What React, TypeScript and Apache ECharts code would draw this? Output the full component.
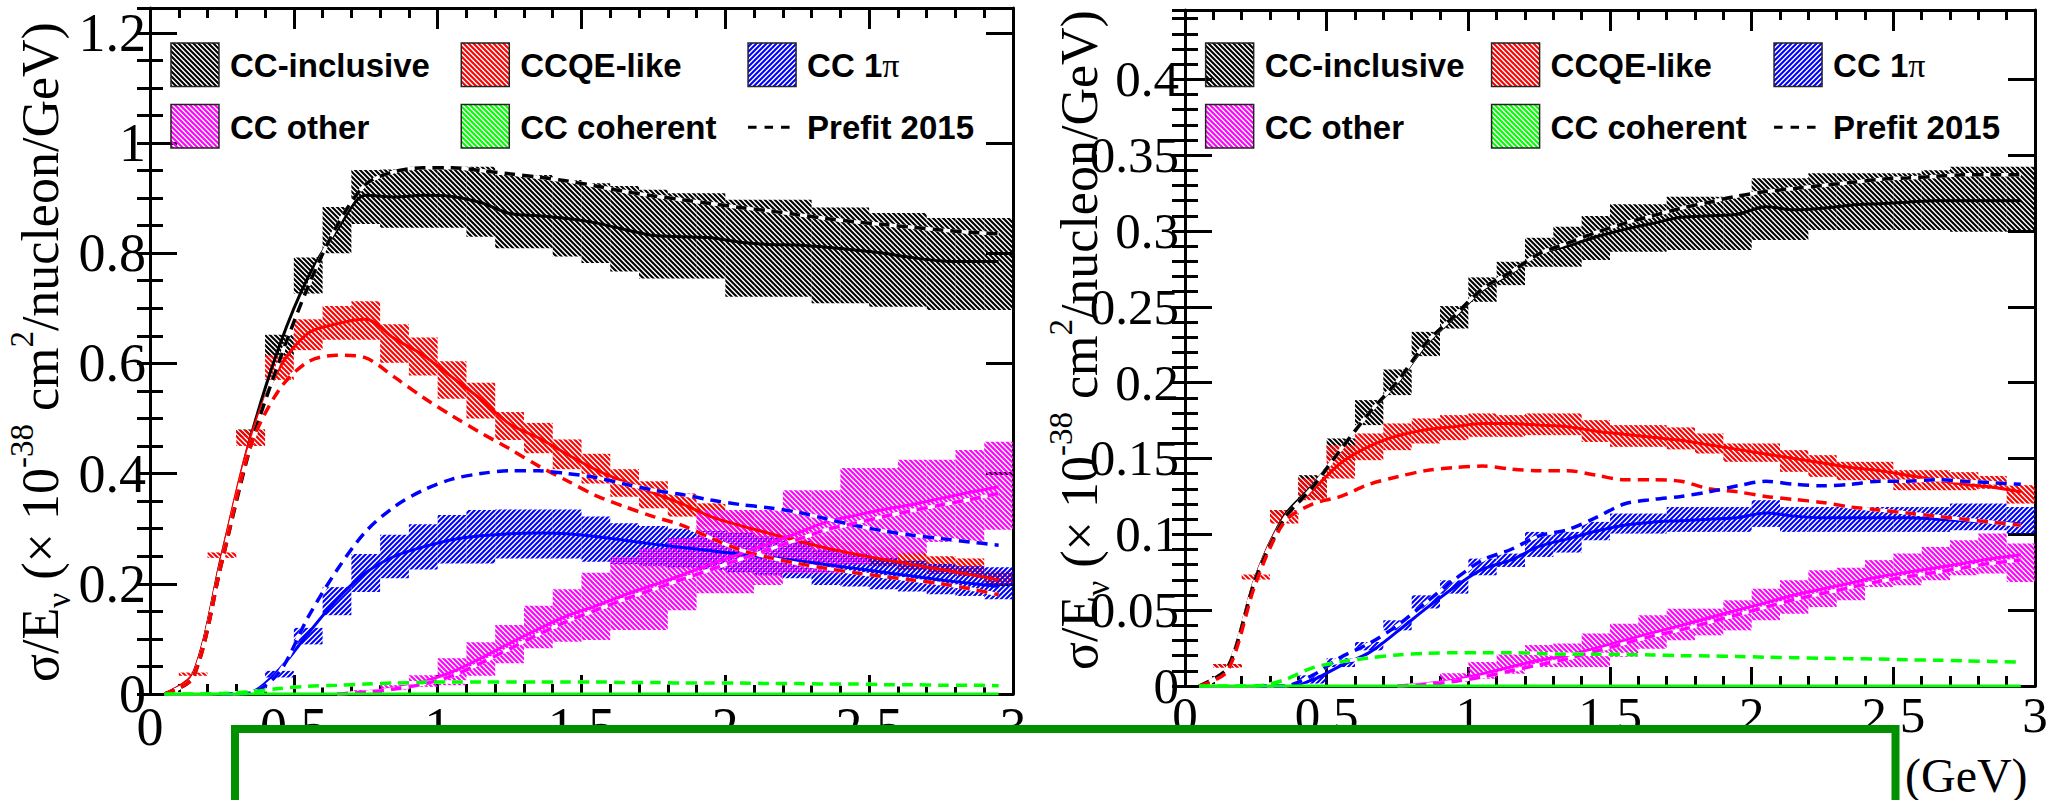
import React, { useEffect, useRef } from "react";
import * as echarts from "echarts";

// ---------- bin centres (GeV), bins are 0.1 GeV wide ----------
const E_CENTERS = [0.05, 0.15, 0.25, 0.35, 0.45, 0.55, 0.65, 0.75, 0.85, 0.95, 1.05, 1.15, 1.25, 1.35, 1.45, 1.55, 1.65, 1.75, 1.85, 1.95, 2.05, 2.15, 2.25, 2.35, 2.45, 2.55, 2.65, 2.75, 2.85, 2.95];
const BIN_HALF_WIDTH = 0.05;

const X_TICKS = [0, 0.5, 1, 1.5, 2, 2.5, 3];
const LEGEND_LABELS = ["CC-inclusive", "CCQE-like", "CC 1π", "CC other", "CC coherent", "Prefit 2015"];

// ---------- LEFT PANEL ----------
const L_INCL_LO = [null, null, null, 0.466, 0.612, 0.727, 0.800, 0.853, 0.846, 0.846, 0.846, 0.830, 0.809, 0.809, 0.794, 0.782, 0.767, 0.754, 0.754, 0.754, 0.721, 0.721, 0.721, 0.709, 0.709, 0.703, 0.703, 0.697, 0.697, 0.697];
const L_INCL_HI = [null, null, null, 0.480, 0.652, 0.792, 0.884, 0.951, 0.952, 0.957, 0.957, 0.957, 0.942, 0.942, 0.933, 0.927, 0.922, 0.915, 0.909, 0.909, 0.897, 0.897, 0.897, 0.883, 0.883, 0.873, 0.873, 0.864, 0.864, 0.864];
const L_INCL_FIT = [0, 0.036, 0.252, 0.466, 0.632, 0.757, 0.842, 0.905, 0.902, 0.905, 0.903, 0.892, 0.872, 0.868, 0.863, 0.855, 0.843, 0.832, 0.830, 0.828, 0.820, 0.816, 0.815, 0.811, 0.806, 0.800, 0.792, 0.786, 0.785, 0.785];
const L_INCL_PRE = [0, 0.030, 0.240, 0.450, 0.605, 0.740, 0.850, 0.925, 0.948, 0.955, 0.955, 0.950, 0.944, 0.938, 0.931, 0.922, 0.912, 0.904, 0.897, 0.890, 0.883, 0.877, 0.870, 0.863, 0.857, 0.852, 0.847, 0.842, 0.838, 0.835];

const L_CCQE_LO = [null, 0.033, 0.247, 0.450, 0.570, 0.624, 0.643, 0.643, 0.601, 0.578, 0.536, 0.500, 0.461, 0.437, 0.408, 0.382, 0.358, 0.337, 0.322, 0.304, 0.290, 0.276, 0.262, 0.250, 0.240, 0.232, 0.225, 0.218, 0.214, 0.198];
const L_CCQE_HI = [null, 0.039, 0.257, 0.479, 0.615, 0.680, 0.704, 0.713, 0.671, 0.647, 0.604, 0.565, 0.512, 0.492, 0.462, 0.436, 0.408, 0.386, 0.364, 0.346, 0.330, 0.314, 0.300, 0.286, 0.276, 0.266, 0.258, 0.250, 0.246, 0.222];
const L_CCQE_FIT = [0, 0.036, 0.252, 0.465, 0.592, 0.655, 0.672, 0.680, 0.645, 0.615, 0.575, 0.535, 0.490, 0.465, 0.435, 0.407, 0.385, 0.365, 0.345, 0.322, 0.306, 0.292, 0.278, 0.265, 0.254, 0.244, 0.235, 0.226, 0.217, 0.207];
const L_CCQE_PRE = [0, 0.030, 0.240, 0.450, 0.553, 0.603, 0.615, 0.610, 0.575, 0.538, 0.505, 0.474, 0.445, 0.414, 0.387, 0.360, 0.340, 0.322, 0.306, 0.283, 0.262, 0.248, 0.237, 0.228, 0.220, 0.213, 0.207, 0.200, 0.191, 0.180];

const L_CC1PI_LO = [null, null, null, null, 0.030, 0.090, 0.143, 0.185, 0.210, 0.226, 0.237, 0.237, 0.246, 0.246, 0.246, 0.240, 0.236, 0.232, 0.228, 0.225, 0.220, 0.215, 0.210, 0.198, 0.195, 0.190, 0.186, 0.181, 0.178, 0.172];
const L_CC1PI_HI = [null, null, null, null, 0.042, 0.120, 0.194, 0.254, 0.289, 0.308, 0.325, 0.334, 0.335, 0.335, 0.335, 0.322, 0.310, 0.305, 0.300, 0.296, 0.292, 0.286, 0.278, 0.262, 0.255, 0.248, 0.242, 0.236, 0.232, 0.230];
const L_CC1PI_FIT = [null, null, 0, 0.003, 0.045, 0.110, 0.172, 0.220, 0.250, 0.267, 0.280, 0.287, 0.291, 0.292, 0.291, 0.286, 0.279, 0.272, 0.266, 0.260, 0.254, 0.248, 0.242, 0.235, 0.228, 0.221, 0.214, 0.207, 0.201, 0.195];
const L_CC1PI_PRE = [null, null, 0, 0.002, 0.040, 0.140, 0.225, 0.295, 0.340, 0.370, 0.390, 0.400, 0.405, 0.405, 0.400, 0.393, 0.381, 0.370, 0.362, 0.352, 0.344, 0.338, 0.330, 0.318, 0.306, 0.296, 0.288, 0.282, 0.276, 0.270];

const L_OTHER_LO = [null, null, null, null, null, null, null, 0.002, 0.007, 0.013, 0.016, 0.033, 0.056, 0.083, 0.095, 0.098, 0.116, 0.116, 0.152, 0.183, 0.183, 0.198, 0.219, 0.219, 0.235, 0.245, 0.255, 0.276, 0.276, 0.298];
const L_OTHER_HI = [null, null, null, null, null, null, null, 0.007, 0.016, 0.034, 0.065, 0.094, 0.125, 0.160, 0.190, 0.220, 0.249, 0.264, 0.283, 0.334, 0.334, 0.334, 0.370, 0.370, 0.410, 0.410, 0.425, 0.425, 0.443, 0.458];
const L_OTHER_FIT = [null, null, null, null, null, null, 0, 0.004, 0.011, 0.022, 0.040, 0.065, 0.092, 0.118, 0.142, 0.160, 0.180, 0.198, 0.216, 0.236, 0.254, 0.273, 0.292, 0.312, 0.324, 0.335, 0.344, 0.355, 0.366, 0.376];
const L_OTHER_PRE = [null, null, null, null, null, null, 0, 0.003, 0.009, 0.018, 0.033, 0.056, 0.082, 0.108, 0.132, 0.152, 0.172, 0.190, 0.208, 0.226, 0.244, 0.262, 0.280, 0.298, 0.310, 0.322, 0.333, 0.343, 0.353, 0.364];

const L_COH_FIT = [0, 0, 0, 0, 0, 0, 0, 0, 0, 0, 0, 0, 0, 0, 0, 0, 0, 0, 0, 0, 0, 0, 0, 0, 0, 0, 0, 0, 0, 0];
const L_COH_PRE = [0, 0, 0.001, 0.004, 0.010, 0.014, 0.016, 0.018, 0.020, 0.021, 0.022, 0.022, 0.022, 0.022, 0.022, 0.022, 0.021, 0.021, 0.020, 0.020, 0.020, 0.019, 0.019, 0.018, 0.018, 0.017, 0.017, 0.016, 0.016, 0.015];

// ---------- RIGHT PANEL ----------
const R_INCL_LO = [null, 0.0125, null, 0.1126, 0.1236, 0.1489, 0.172, 0.1918, 0.2175, 0.2357, 0.2533, 0.2643, 0.2764, 0.2764, 0.2808, 0.2863, 0.2863, 0.2874, 0.2874, 0.2874, 0.294, 0.294, 0.3006, 0.3006, 0.3006, 0.3006, 0.3006, 0.2995, 0.2995, 0.2995];
const R_INCL_HI = [null, 0.0145, null, 0.1159, 0.139, 0.1632, 0.1885, 0.2087, 0.2335, 0.2505, 0.2694, 0.2797, 0.2955, 0.3028, 0.3098, 0.3177, 0.3177, 0.3226, 0.3226, 0.3226, 0.3347, 0.3347, 0.338, 0.338, 0.338, 0.338, 0.3401, 0.3424, 0.3424, 0.3424];
const R_INCL_FIT = [0, 0.012, 0.072, 0.112, 0.132, 0.156, 0.180, 0.200, 0.225, 0.243, 0.261, 0.272, 0.285, 0.290, 0.296, 0.301, 0.305, 0.309, 0.310, 0.311, 0.316, 0.314, 0.315, 0.317, 0.318, 0.319, 0.320, 0.320, 0.320, 0.320];
const R_INCL_PRE = [0, 0.012, 0.071, 0.110, 0.131, 0.156, 0.180, 0.201, 0.226, 0.244, 0.262, 0.273, 0.285, 0.292, 0.299, 0.305, 0.310, 0.315, 0.319, 0.323, 0.326, 0.328, 0.330, 0.332, 0.334, 0.335, 0.336, 0.337, 0.337, 0.337];

const R_CCQE_LO = [null, 0.012, 0.0702, 0.1071, 0.1225, 0.1368, 0.1489, 0.1555, 0.1599, 0.1621, 0.1643, 0.1643, 0.1654, 0.1654, 0.1609, 0.1577, 0.1577, 0.156, 0.1533, 0.1478, 0.1478, 0.1412, 0.1379, 0.1357, 0.1357, 0.1291, 0.1291, 0.1291, 0.130, 0.1203];
const R_CCQE_HI = [null, 0.0145, 0.0735, 0.1159, 0.1368, 0.1588, 0.1665, 0.1731, 0.1764, 0.1786, 0.1797, 0.1786, 0.1797, 0.1797, 0.1753, 0.172, 0.172, 0.1705, 0.1665, 0.1599, 0.1599, 0.1555, 0.1522, 0.1478, 0.1478, 0.1423, 0.1423, 0.141, 0.1385, 0.1324];
const R_CCQE_FIT = [0, 0.012, 0.072, 0.111, 0.129, 0.147, 0.158, 0.165, 0.169, 0.171, 0.173, 0.173, 0.172, 0.171, 0.168, 0.166, 0.164, 0.162, 0.159, 0.156, 0.153, 0.150, 0.147, 0.144, 0.142, 0.139, 0.136, 0.133, 0.131, 0.128];
const R_CCQE_PRE = [0, 0.010, 0.068, 0.108, 0.120, 0.125, 0.133, 0.138, 0.142, 0.144, 0.145, 0.143, 0.142, 0.142, 0.139, 0.136, 0.136, 0.135, 0.130, 0.128, 0.125, 0.123, 0.121, 0.118, 0.116, 0.114, 0.112, 0.110, 0.108, 0.106];

const R_CC1PI_LO = [null, null, null, null, 0.0016, 0.0125, 0.0235, 0.0367, 0.0511, 0.0609, 0.073, 0.0785, 0.0851, 0.088, 0.0961, 0.1005, 0.1005, 0.1016, 0.1016, 0.1016, 0.1049, 0.1016, 0.1016, 0.1016, 0.1016, 0.1016, 0.1016, 0.1027, 0.1027, 0.1005];
const R_CC1PI_HI = [null, null, null, null, 0.007, 0.0183, 0.029, 0.0433, 0.0598, 0.0697, 0.084, 0.0873, 0.1016, 0.1016, 0.1082, 0.1137, 0.1137, 0.118, 0.118, 0.118, 0.1225, 0.118, 0.118, 0.118, 0.118, 0.118, 0.118, 0.1203, 0.1203, 0.118];
const R_CC1PI_FIT = [null, null, 0, 0, 0.004, 0.0135, 0.022, 0.036, 0.051, 0.065, 0.077, 0.083, 0.092, 0.097, 0.102, 0.106, 0.108, 0.109, 0.110, 0.111, 0.114, 0.112, 0.111, 0.111, 0.111, 0.111, 0.110, 0.109, 0.108, 0.107];
const R_CC1PI_PRE = [null, null, 0, 0, 0.007, 0.019, 0.028, 0.040, 0.055, 0.070, 0.083, 0.090, 0.099, 0.103, 0.111, 0.120, 0.123, 0.125, 0.128, 0.132, 0.135, 0.133, 0.132, 0.133, 0.135, 0.135, 0.136, 0.135, 0.134, 0.133];

const R_OTHER_LO = [null, null, null, null, null, null, null, null, 0.0005, 0.0026, 0.0048, 0.0081, 0.0125, 0.0125, 0.0125, 0.0191, 0.0246, 0.0301, 0.0334, 0.0367, 0.0433, 0.0477, 0.0521, 0.0565, 0.0653, 0.0664, 0.0697, 0.073, 0.0741, 0.0686];
const R_OTHER_HI = [null, null, null, null, null, null, null, null, 0.002, 0.0084, 0.0158, 0.0213, 0.027, 0.028, 0.0346, 0.0411, 0.0466, 0.051, 0.051, 0.0565, 0.0642, 0.0697, 0.0763, 0.078, 0.083, 0.0873, 0.0917, 0.0961, 0.1005, 0.0939];
const R_OTHER_FIT = [null, null, null, null, null, null, null, 0, 0.0015, 0.004, 0.008, 0.0125, 0.017, 0.020, 0.025, 0.030, 0.035, 0.040, 0.045, 0.050, 0.055, 0.060, 0.064, 0.068, 0.072, 0.075, 0.078, 0.081, 0.084, 0.0865];
const R_OTHER_PRE = [null, null, null, null, null, null, null, 0, 0.001, 0.003, 0.006, 0.010, 0.014, 0.018, 0.023, 0.028, 0.033, 0.037, 0.042, 0.047, 0.052, 0.057, 0.061, 0.065, 0.069, 0.072, 0.075, 0.078, 0.081, 0.083];

const R_COH_FIT = [0, 0, 0, 0, 0, 0, 0, 0, 0, 0, 0, 0, 0, 0, 0, 0, 0, 0, 0, 0, 0, 0, 0, 0, 0, 0, 0, 0, 0, 0];
const R_COH_PRE = [0, 0, 0, 0.004, 0.012, 0.016, 0.0185, 0.0205, 0.0215, 0.022, 0.022, 0.022, 0.0215, 0.021, 0.021, 0.0208, 0.0205, 0.020, 0.0198, 0.0195, 0.019, 0.0187, 0.0183, 0.018, 0.0178, 0.0173, 0.017, 0.0166, 0.0162, 0.0158];

// ---------- styling ----------
const C_BLACK = "#000000";
const C_RED = "#ff0000";
const C_BLUE = "#0000ff";
const C_MAGENTA = "#ff00ff";
const C_GREEN = "#00ff00";
const C_BOX = "#009000";

type Pattern = { image: string; repeat: string; imageWidth: number; imageHeight: number };

function hatch(color: string, forward: boolean): Pattern {
  const p = 5;
  const c = document.createElement("canvas");
  c.width = p;
  c.height = p;
  const ctx = c.getContext("2d")!;
  ctx.strokeStyle = color;
  ctx.lineWidth = 2.1;
  ctx.beginPath();
  for (let k = -1; k <= 1; k++) {
    const o = k * p;
    if (forward) {
      ctx.moveTo(o - 1, p + 1);
      ctx.lineTo(o + p + 1, -1);
    } else {
      ctx.moveTo(o - 1, -1);
      ctx.lineTo(o + p + 1, p + 1);
    }
  }
  ctx.stroke();
  return { image: c.toDataURL(), repeat: "repeat", imageWidth: p, imageHeight: p };
}

function bandSeries(xi: number, yi: number, lo: (number | null)[], hi: (number | null)[], fill: Pattern, z: number) {
  const data: number[][] = [];
  E_CENTERS.forEach((c, i) => {
    const l = lo[i];
    const h = hi[i];
    if (l != null && h != null) data.push([c - BIN_HALF_WIDTH, c + BIN_HALF_WIDTH, l, h]);
  });
  return {
    type: "custom",
    xAxisIndex: xi,
    yAxisIndex: yi,
    z,
    silent: true,
    clip: true,
    encode: { x: [0, 1], y: [2, 3] },
    renderItem: (_params: any, api: any) => {
      const a = api.coord([api.value(0), api.value(3)]);
      const b = api.coord([api.value(1), api.value(2)]);
      const h = Math.max(b[1] - a[1], 2.5);
      return {
        type: "rect",
        shape: { x: a[0], y: a[1], width: b[0] - a[0], height: h },
        style: { fill, stroke: null },
      };
    },
    data,
  };
}

function lineSeries(xi: number, yi: number, vals: (number | null)[], color: string, kind: "solid" | "dash" | "under", z: number) {
  const data: number[][] = [];
  E_CENTERS.forEach((c, i) => {
    const v = vals[i];
    if (v != null) data.push([c, v]);
  });
  return {
    type: "line",
    xAxisIndex: xi,
    yAxisIndex: yi,
    data,
    smooth: 0.3,
    symbol: "none",
    showSymbol: false,
    silent: true,
    clip: true,
    z,
    lineStyle: {
      color: kind === "under" ? "#ffffff" : color,
      width: kind === "solid" ? 3 : 3.5,
      type: kind === "dash" ? [11, 7] : "solid",
    },
  };
}

const fmt = (v: number) => String(parseFloat(v.toFixed(4)));
const isMult = (v: number, step: number) => Math.abs(v / step - Math.round(v / step)) < 1e-6;

function panelAxes(grid: number, yMax: number, yMajor: number, yMinor: number, xSize: number, ySize: number, xMargin: number, yMargin: number) {
  const line = { show: true, onZero: false, lineStyle: { color: "#000", width: 3 } };
  const tickStyle = { color: "#000", width: 3 };
  const lbl = (s: number) => ({ fontFamily: "Liberation Serif", fontSize: s, color: "#000" });
  const xAxes = [
    {
      type: "value", gridIndex: grid, position: "bottom", min: X_TICKS[0], max: X_TICKS[X_TICKS.length - 1], interval: 0.5,
      axisLine: line,
      axisTick: { show: true, inside: true, length: 19, lineStyle: tickStyle },
      minorTick: { show: true, splitNumber: 5, length: 10, lineStyle: tickStyle },
      splitLine: { show: false }, minorSplitLine: { show: false },
      axisLabel: { ...lbl(xSize), margin: xMargin, formatter: (v: number) => fmt(v) },
    },
    {
      type: "value", gridIndex: grid, position: "top", min: X_TICKS[0], max: X_TICKS[X_TICKS.length - 1], interval: 0.5,
      axisLine: line,
      axisTick: { show: true, inside: true, length: 21, lineStyle: tickStyle },
      minorTick: { show: true, splitNumber: 5, length: 10, lineStyle: tickStyle },
      splitLine: { show: false }, minorSplitLine: { show: false },
      axisLabel: { show: false },
    },
  ];
  const yBase = (pos: string, interval: number, len: number, showLine: boolean, labels: boolean) => ({
    type: "value", gridIndex: grid, position: pos, min: 0, max: yMax, interval,
    axisLine: showLine ? line : { show: false },
    axisTick: { show: true, inside: true, length: len, lineStyle: tickStyle },
    minorTick: { show: false },
    splitLine: { show: false },
    axisLabel: labels
      ? { ...lbl(ySize), margin: yMargin, formatter: (v: number) => (isMult(v, yMajor) ? fmt(v) : "") }
      : { show: false },
  });
  const yAxes = [
    yBase("left", yMajor, 27, true, true),
    yBase("left", yMinor, 13, false, false),
    yBase("right", yMajor, 27, true, false),
    yBase("right", yMinor, 13, false, false),
  ];
  return { xAxes, yAxes };
}

function panelSeries(xi: number, yi: number, d: any, P: any) {
  return [
    bandSeries(xi, yi, d.inclLo, d.inclHi, P.black, 2),
    bandSeries(xi, yi, d.ccqeLo, d.ccqeHi, P.red, 2),
    bandSeries(xi, yi, d.pi1Lo, d.pi1Hi, P.blue, 2),
    bandSeries(xi, yi, d.otherLo, d.otherHi, P.magenta, 2),
    lineSeries(xi, yi, d.inclFit, C_BLACK, "solid", 3),
    lineSeries(xi, yi, d.ccqeFit, C_RED, "solid", 3),
    lineSeries(xi, yi, d.pi1Fit, C_BLUE, "solid", 3),
    lineSeries(xi, yi, d.otherFit, C_MAGENTA, "solid", 3),
    lineSeries(xi, yi, d.inclPre, C_BLACK, "under", 4),
    lineSeries(xi, yi, d.inclPre, C_BLACK, "dash", 5),
    lineSeries(xi, yi, d.ccqePre, C_RED, "under", 4),
    lineSeries(xi, yi, d.ccqePre, C_RED, "dash", 5),
    lineSeries(xi, yi, d.pi1Pre, C_BLUE, "under", 4),
    lineSeries(xi, yi, d.pi1Pre, C_BLUE, "dash", 5),
    lineSeries(xi, yi, d.otherPre, C_MAGENTA, "under", 4),
    lineSeries(xi, yi, d.otherPre, C_MAGENTA, "dash", 5),
    lineSeries(xi, yi, d.cohPre, C_GREEN, "under", 4),
    lineSeries(xi, yi, d.cohPre, C_GREEN, "dash", 5),
    lineSeries(xi, yi, d.cohFit, C_GREEN, "solid", 6),
  ];
}

function legendGraphics(L: number, W: number, row1: number, row2: number, boxH: number, P: any) {
  const cols = [L + 0.0243 * W, L + 0.3607 * W, L + 0.693 * W];
  const boxW = 48;
  const textFont = { fontFamily: "Liberation Sans", fontWeight: "bold", fontSize: 33, fill: "#000" };
  const entries = [
    { col: 0, row: row1, fill: P.black, label: LEGEND_LABELS[0] },
    { col: 1, row: row1, fill: P.red, label: LEGEND_LABELS[1] },
    { col: 2, row: row1, fill: P.blue, label: LEGEND_LABELS[2] },
    { col: 0, row: row2, fill: P.magenta, label: LEGEND_LABELS[3] },
    { col: 1, row: row2, fill: P.green, label: LEGEND_LABELS[4] },
  ];
  const els: any[] = [];
  entries.forEach((e) => {
    els.push({
      type: "rect",
      shape: { x: cols[e.col], y: e.row, width: boxW, height: boxH },
      style: { fill: e.fill, stroke: "#222", lineWidth: 1.5 },
      z: 50,
    });
    const isPi = e.label === "CC 1π";
    els.push({
      type: "text",
      x: cols[e.col] + boxW + 11,
      y: e.row + boxH / 2 + 1,
      style: isPi
        ? {
            text: "{a|CC 1}{p|π}",
            verticalAlign: "middle",
            rich: {
              a: { ...textFont },
              p: { fontFamily: "Liberation Serif", fontSize: 34, fill: "#000" },
            },
          }
        : { text: e.label, verticalAlign: "middle", ...textFont },
      z: 50,
    });
  });
  const dashY = row2 + boxH / 2 + 1;
  els.push({
    type: "line",
    shape: { x1: cols[2], y1: dashY, x2: cols[2] + 42, y2: dashY },
    style: { stroke: "#000", lineWidth: 3, lineDash: [8.5, 8] },
    z: 50,
  });
  els.push({
    type: "text",
    x: cols[2] + boxW + 11,
    y: dashY,
    style: { text: LEGEND_LABELS[5], verticalAlign: "middle", ...textFont },
    z: 50,
  });
  return els;
}

function yTitle(x: number, y: number) {
  const base = { fontFamily: "Liberation Serif", fill: "#000" };
  return {
    type: "text",
    x,
    y,
    rotation: Math.PI / 2,
    z: 50,
    style: {
      text: "{m|σ/E}{sub|ν}{m| (× 10}{sup|-38}{m| cm}{sup|2}{m|/nucleon/GeV)}",
      align: "center",
      verticalAlign: "middle",
      fontFamily: "Liberation Serif",
      fontSize: 52,
      rich: {
        m: { ...base, fontSize: 52, lineHeight: 70 },
        sup: { ...base, fontSize: 33, lineHeight: 32, verticalAlign: "top" },
        sub: { ...base, fontSize: 33, lineHeight: 40, verticalAlign: "bottom" },
      },
    },
  };
}

export default function App() {
  const ref = useRef<HTMLDivElement>(null);
  useEffect(() => {
    if (!ref.current) return;
    const chart = echarts.init(ref.current, undefined, { renderer: "svg" });
    const P = {
      black: hatch(C_BLACK, false),
      red: hatch(C_RED, false),
      blue: hatch(C_BLUE, true),
      magenta: hatch(C_MAGENTA, false),
      green: hatch(C_GREEN, false),
    };
    const left = panelAxes(0, 1.245, 0.2, 0.05, 54, 54, 6, 4);
    const right = panelAxes(1, 0.4457, 0.05, 0.01, 51, 51, 3, 6);
    const dL = {
      inclLo: L_INCL_LO, inclHi: L_INCL_HI, inclFit: L_INCL_FIT, inclPre: L_INCL_PRE,
      ccqeLo: L_CCQE_LO, ccqeHi: L_CCQE_HI, ccqeFit: L_CCQE_FIT, ccqePre: L_CCQE_PRE,
      pi1Lo: L_CC1PI_LO, pi1Hi: L_CC1PI_HI, pi1Fit: L_CC1PI_FIT, pi1Pre: L_CC1PI_PRE,
      otherLo: L_OTHER_LO, otherHi: L_OTHER_HI, otherFit: L_OTHER_FIT, otherPre: L_OTHER_PRE,
      cohFit: L_COH_FIT, cohPre: L_COH_PRE,
    };
    const dR = {
      inclLo: R_INCL_LO, inclHi: R_INCL_HI, inclFit: R_INCL_FIT, inclPre: R_INCL_PRE,
      ccqeLo: R_CCQE_LO, ccqeHi: R_CCQE_HI, ccqeFit: R_CCQE_FIT, ccqePre: R_CCQE_PRE,
      pi1Lo: R_CC1PI_LO, pi1Hi: R_CC1PI_HI, pi1Fit: R_CC1PI_FIT, pi1Pre: R_CC1PI_PRE,
      otherLo: R_OTHER_LO, otherHi: R_OTHER_HI, otherFit: R_OTHER_FIT, otherPre: R_OTHER_PRE,
      cohFit: R_COH_FIT, cohPre: R_COH_PRE,
    };
    const option: any = {
      animation: false,
      backgroundColor: "#ffffff",
      grid: [
        { left: 150, top: 8, width: 863, height: 686, containLabel: false, outerBoundsMode: "none", show: false },
        { left: 1185, top: 10, width: 850, height: 676, containLabel: false, outerBoundsMode: "none", show: false },
      ],
      xAxis: [...left.xAxes, ...right.xAxes],
      yAxis: [...left.yAxes, ...right.yAxes],
      series: [...panelSeries(0, 0, dL, P), ...panelSeries(2, 4, dR, P)],
      graphic: [
        ...legendGraphics(150, 863, 43, 104.5, 43.5, P),
        ...legendGraphics(1185, 850, 43, 104.5, 43.5, P),
        yTitle(40, 352),
        yTitle(1079, 340),
        {
          type: "rect",
          shape: { x: 235, y: 729, width: 1660.5, height: 140 },
          style: { fill: "#ffffff", stroke: C_BOX, lineWidth: 8 },
          z: 100,
        },
        {
          type: "text",
          x: 1905,
          y: 775,
          style: { text: "(GeV)", fontFamily: "Liberation Serif", fontSize: 48, fill: "#000", verticalAlign: "middle" },
          z: 100,
        },
      ],
    };
    chart.setOption(option);
    return () => chart.dispose();
  }, []);
  return <div ref={ref} style={{ position: "fixed", left: 0, top: 0, width: 2053, height: 800 }} />;
}
